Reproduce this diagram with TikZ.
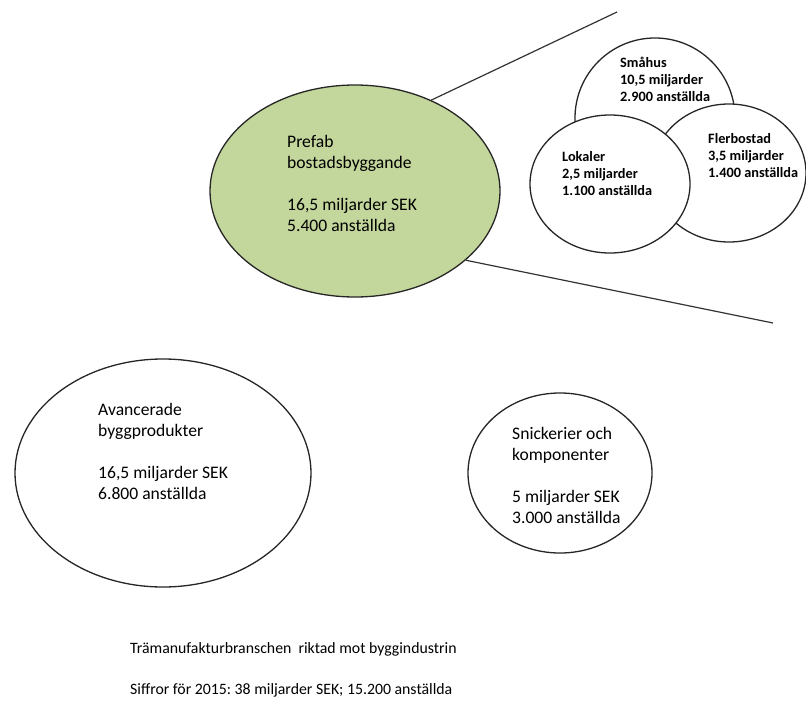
\documentclass[tikz,border=0pt]{standalone}
\usepackage{fontspec}
\setmainfont{Carlito}
\usetikzlibrary{shapes.geometric}
\definecolor{prefabgreen}{RGB}{195,214,155}

\begin{document}
\begin{tikzpicture}[x=1pt,y=-1pt,
  area node/.style={ellipse,draw=black!85,line width=1.3pt,inner sep=0pt,fill=white},
  info node/.style={anchor=west,align=left,inner sep=0pt,font=\fontsize{17.6}{21}\selectfont},
  foot node/.style={anchor=west,inner sep=0pt,font=\fontsize{15.8}{19}\selectfont},
  sub node/.style={anchor=west,align=left,inner sep=0pt,font=\bfseries\fontsize{14.3}{17}\selectfont}]
                \useasboundingbox (0,0) rectangle (806,707);

                \node[area node,fill=prefabgreen,minimum width=290pt,minimum height=212pt] (prefab) at (355,191) {};
                \coordinate (zoomtop) at (617,12);
                \coordinate (zoombot) at (773,323);
                \draw[line width=1.2pt,black!80] (prefab.50) -- (zoomtop);
                \draw[line width=1.2pt,black!80] (prefab.-32) -- (zoombot);

                \node[area node,minimum width=160pt,minimum height=160pt] (smahus) at (655,118) {};
                \node[area node,minimum width=154pt,minimum height=138pt] (flerbostad) at (729,173) {};
                \node[area node,minimum width=160pt,minimum height=138pt] (lokaler) at (610,184) {};

                \node[area node,minimum width=296pt,minimum height=228pt] (avancerade) at (163,473) {};
                \node[area node,minimum width=184pt,minimum height=160pt] (snickerier) at (560,473) {};

                \node[info node] (prefabtxt) at (287,183) {Prefab\\bostadsbyggande\\[21pt]16,5 miljarder SEK\\5.400 anställda};
                \node[sub node] (smahustxt) at (620,79) {Småhus\\10,5 miljarder\\2.900 anställda};
                \node[sub node] (lokalertxt) at (562,174) {Lokaler\\2,5 miljarder\\1.100 anställda};
                \node[sub node] (flerbostadtxt) at (708,156) {Flerbostad\\3,5 miljarder\\1.400 anställda};
                \node[info node] (avanceradetxt) at (98,451) {Avancerade\\byggprodukter\\[21pt]16,5 miljarder SEK\\6.800 anställda};
                \node[info node] (snickeriertxt) at (512,475) {Snickerier och\\komponenter\\[21pt]5 miljarder SEK\\3.000 anställda};

                \node[foot node] (rubrik) at (130,649) {Trämanufakturbranschen\ \ riktad mot byggindustrin};
                \node[foot node] (siffror) at (130,690) {Siffror för 2015:\ 38 miljarder\ SEK;\ 15.200 anställda};
\end{tikzpicture}
\end{document}
